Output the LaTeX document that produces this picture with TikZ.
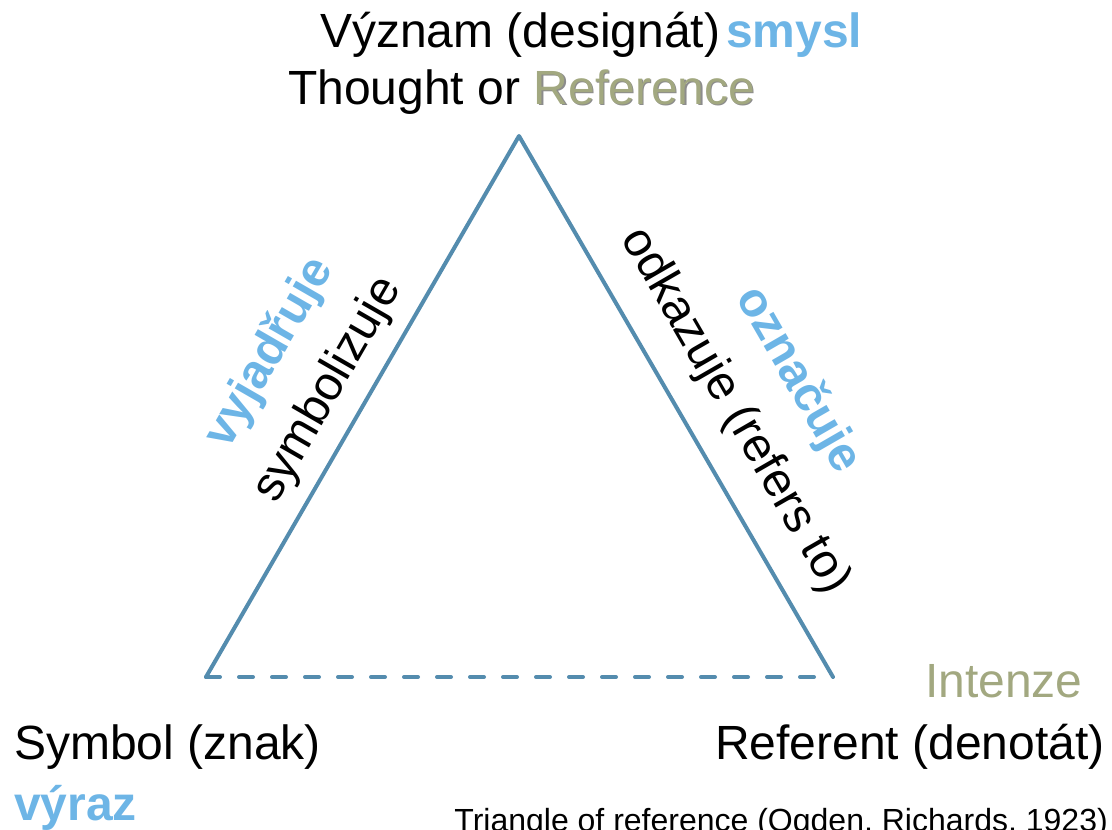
\documentclass[tikz,border=0pt]{standalone}
\usepackage{fontspec}
\setmainfont{Liberation Sans}
\usetikzlibrary{positioning}
\definecolor{edgeblue}{HTML}{548CAE}
\definecolor{wordblue}{HTML}{6DB5E6}
\definecolor{olivegray}{HTML}{A2A880}
\tikzset{>=stealth}

\begin{document}
\begin{tikzpicture}[x=1pt,y=-1pt,
  every node/.style={inner sep=0pt,font=\fontsize{48}{56}\selectfont},
  side/.style={edgeblue,line width=4pt,line join=round,line cap=round},
  blueword/.style={wordblue,font=\fontsize{48}{56}\selectfont\bfseries}]
\useasboundingbox (0,0) rectangle (1112,830);
\coordinate (T) at (519,136);
\coordinate (S) at (206,677);
\coordinate (R) at (833,677);
\draw[side] (S) -- (T) -- (R);
\draw[side,dash pattern=on 14pt off 19pt] (S) -- (R);
% top corner
\node[anchor=base west] (meaning) at (320,47) {Význam (designát)};
\node[blueword,anchor=base west] (smysl) at (726,47) {smysl};
\node[anchor=base west] (thought) at (288,104)
  {Thought or {\color{black!45}\rlap{\kern1.5pt\raisebox{-1.5pt}{Reference}}}\color{olivegray}Reference};
% sides
\node[blueword,rotate=60] (expresses) at (270,353) {vyjadřuje};
\node[rotate=60] (symbolizes) at (328,390) {symbolizuje};
\node[rotate=-60] (refers) at (735,411) {odkazuje (refers to)};
\node[blueword,rotate=-60] (denotes) at (798,380) {označuje};
% bottom corners
\node[olivegray,anchor=base west] (intension) at (925,697) {Intenze};
\node[anchor=base west] (symbol) at (14,759) {Symbol (znak)};
\node[anchor=base east] (referent) at (1105,759) {Referent (denotát)};
\node[blueword,anchor=base west] (expression) at (14,820) {výraz};
\node[anchor=base east,font=\fontsize{32}{38}\selectfont] (caption) at (1108,831)
  {Triangle of reference (Ogden, Richards, 1923)};
\end{tikzpicture}
\end{document}
